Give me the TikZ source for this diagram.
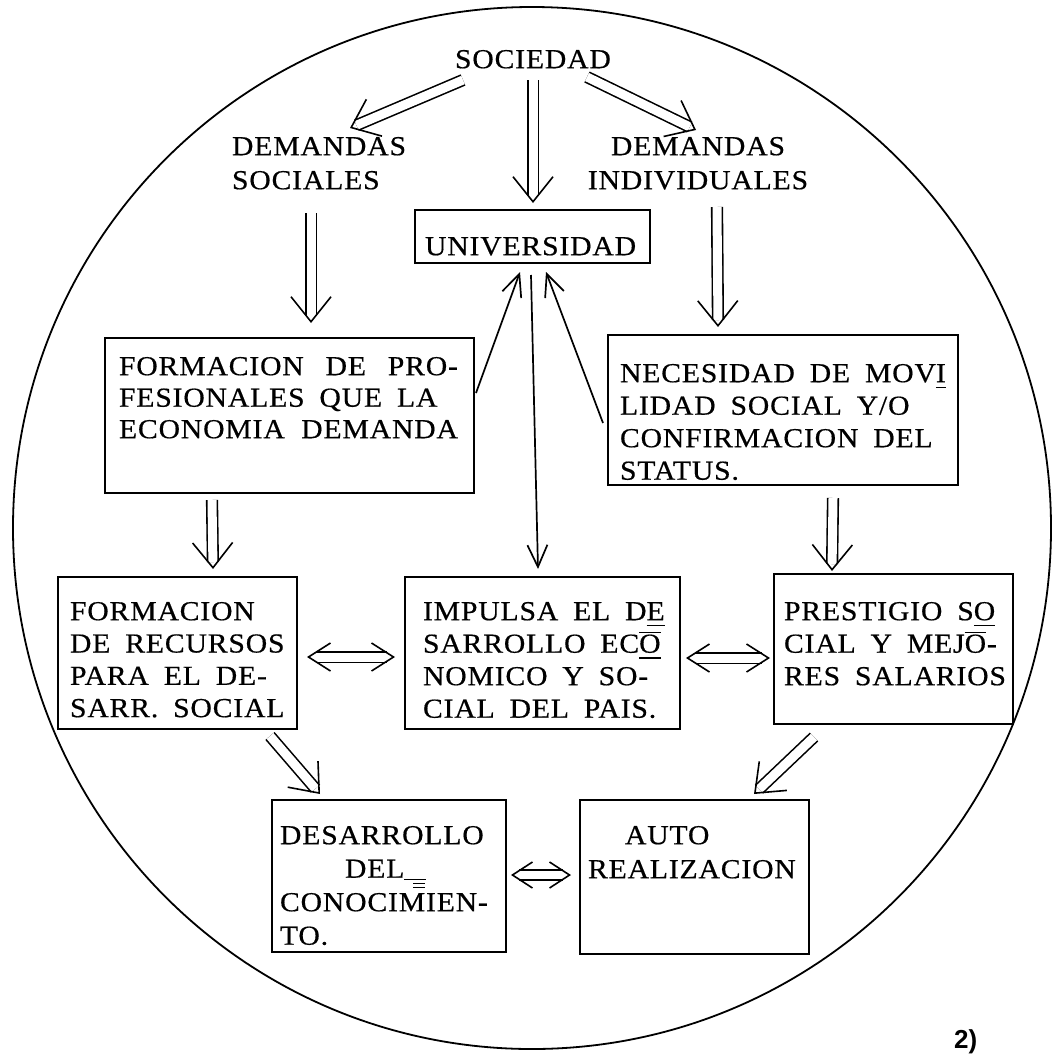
\documentclass[tikz,border=0pt]{standalone}
\usepackage{fontspec}
\setmainfont{Liberation Serif}[FakeStretch=1.08, LetterSpace=3, WordSpace=1.8, FakeBold=0.5]
\newfontfamily\labfont{Liberation Sans}
\usetikzlibrary{arrows.meta,calc}
\newcommand\ulx[1]{\setbox0\hbox{#1}\rlap{\rule[-6pt]{\wd0}{1.3pt}}#1}
\newcommand\ovx[1]{\setbox0\hbox{#1}\rlap{\rule[\dimexpr\ht0+1.5pt\relax]{\wd0}{1.3pt}}#1}
\newcommand\ulov[1]{\setbox0\hbox{#1}\rlap{\rule[-6pt]{\wd0}{1.3pt}}\rlap{\rule[\dimexpr\ht0+1.5pt\relax]{\wd0}{1.3pt}}#1}
\newcommand\delmark{\rlap{\rule[-2pt]{22pt}{1.2pt}}\hspace{9pt}\rlap{\rule[-6pt]{12pt}{1.2pt}}\rlap{\rule[-10pt]{12pt}{1.2pt}}}
\begin{document}
\begin{tikzpicture}[x=1pt,y=-1pt,
  box/.style={draw, line width=1.8pt, inner sep=0pt, outer sep=0pt, anchor=north west},
  txt/.style={inner sep=0pt, outer sep=0pt, align=left, anchor=north west, font=\fontsize{27.5}{32.5}\selectfont},
  sgl/.style={line width=1.7pt, -{Straight Barb[length=22pt,width=20pt]}},
  dbl/.style={line width=1.6pt, dash pattern=on 0pt off 10000pt, -{Straight Barb[length=25pt,width=40pt]},
     preaction={draw, solid, -, double, double distance=9pt, shorten >=7pt}},
  dbltwo/.style={line width=1.6pt, dash pattern=on 0pt off 10000pt,
     {Straight Barb[length=22pt,width=28pt]}-{Straight Barb[length=22pt,width=28pt]},
     preaction={draw, solid, -, double, double distance=9pt, shorten >=8.5pt, shorten <=8.5pt}},
  dblsmall/.style={line width=1.6pt, dash pattern=on 0pt off 10000pt,
     {Straight Barb[length=20pt,width=26pt]}-{Straight Barb[length=20pt,width=26pt]},
     preaction={draw, solid, -, double, double distance=8pt, shorten >=8pt, shorten <=8pt}}
]
\useasboundingbox (0,0) rectangle (1059,1055);
\fill[white] (0,0) rectangle (1059,1055);
\draw[line width=1.8pt] (532,528) ellipse [x radius=519, y radius=521];

% text-only nodes
\node[txt] (soc) at (455,50) {SOCIEDAD};
\node[txt, font=\fontsize{27.5}{34}\selectfont] (dsoc) at (232,137) {DEMANDAS\\SOCIALES};
\node[txt, align=center, anchor=north, font=\fontsize{27.5}{34}\selectfont] (dind) at (698,137) {DEMANDAS\\INDIVIDUALES};

% boxes
\node[box, minimum width=235pt, minimum height=53pt] (univ) at (415,210) {};
\node[txt] (univt) at (425,237) {UNIVERSIDAD};

\node[box, minimum width=369pt, minimum height=155pt] (fpro) at (105,338) {};
\node[txt, font=\fontsize{27.5}{31.5}\selectfont] (fprot) at (119,357) {\makebox[339pt][s]{FORMACION DE PRO-}\\FESIONALES QUE LA\\\makebox[339pt][s]{ECONOMIA DEMANDA}};

\node[box, minimum width=350pt, minimum height=150pt] (nec) at (608,335) {};
\node[txt] (nect) at (620,364) {NECESIDAD DE MOV\ulx{I}\\LIDAD SOCIAL Y/O\\CONFIRMACION DEL\\STATUS.};

\node[box, minimum width=239pt, minimum height=152pt] (fr) at (58,577) {};
\node[txt, font=\fontsize{27.5}{32.3}\selectfont] (frt) at (70,602) {FORMACION\\DE RECURSOS\\PARA EL DE-\\SARR. SOCIAL};

\node[box, minimum width=275pt, minimum height=152pt] (imp) at (405,577) {};
\node[txt] (impt) at (423,602) {IMPULSA EL D\ulx{E}\\SARROLLO EC\ulov{O}\\NOMICO Y SO-\\CIAL DEL PAIS.};

\node[box, minimum width=239pt, minimum height=150pt] (pres) at (774,574) {};
\node[txt] (prest) at (784,602) {PRESTIGIO S\ulx{O}\\CIAL Y MEJ\ovx{O}-\\RES SALARIOS};

\node[box, minimum width=234pt, minimum height=152pt] (des) at (272,800) {};
\node[txt, font=\fontsize{27.5}{33.5}\selectfont] (dest) at (280,826) {DESARROLLO\\\hspace*{65pt}DEL\delmark\\CONOCIMIEN-\\TO.};

\node[box, minimum width=229pt, minimum height=154pt] (auto) at (580,800) {};
\node[txt, font=\fontsize{27.5}{34}\selectfont] (autot) at (588,826) {\hspace*{37pt}AUTO\\REALIZACION};

\node[inner sep=0pt, anchor=north west, font=\labfont\bfseries\fontsize{26}{26}\selectfont] (num) at (954,1029) {2)};

% connectors
\draw[dbl] ($(soc.north west)+(8,30)$) -- ($(dsoc.north west)+(118,-9)$);
\draw[dbl] ($(soc.north west)+(78,30)$) -- ($(univ.north west)+(118,-7)$);
\draw[dbl] ($(soc.north west)+(132,27)$) -- ($(dind.north)+(-2,-7)$);
\draw[dbl] ($(dsoc.north west)+(79,76)$) -- ($(fpro.north west)+(206,-15)$);
\draw[dbl] ($(dind.north)+(19,70)$) -- ($(nec.north west)+(110,-8)$);
\draw[sgl] ($(fpro.north west)+(371,55)$) -- ($(univ.north west)+(105,62)$);
\draw[sgl] ($(nec.north west)+(-5,88)$) -- ($(univ.north west)+(131,62)$);
\draw[sgl] ($(univ.north west)+(116,65)$) -- ($(imp.north west)+(133,-8)$);
\draw[dbl] ($(fpro.north west)+(107,162)$) -- ($(fr.north west)+(155,-8)$);
\draw[dbl] ($(nec.north west)+(225,163)$) -- ($(pres.north west)+(58,-3)$);
\draw[dbltwo] ($(fr.north west)+(249,80)$) -- ($(imp.north west)+(-10,80)$);
\draw[dbltwo] ($(imp.north west)+(281,81)$) -- ($(pres.north west)+(-4,84)$);
\draw[dbl] ($(fr.north west)+(212,159)$) -- ($(des.north west)+(48,-6)$);
\draw[dbl] ($(pres.north west)+(40,163)$) -- ($(auto.north west)+(174,-6)$);
\draw[dblsmall] ($(des.north west)+(239,75)$) -- ($(auto.north west)+(-9,75)$);
\end{tikzpicture}
\end{document}
